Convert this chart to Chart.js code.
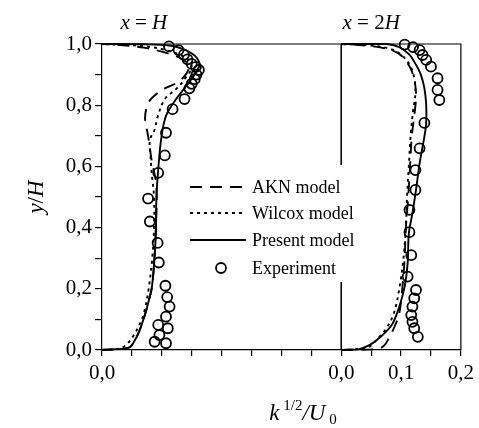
<!DOCTYPE html>
<html>
<head>
<meta charset="utf-8">
<script src="https://cdn.jsdelivr.net/npm/chart.js@4.4.1/dist/chart.umd.min.js"></script>
<style>
  html, body { margin: 0; padding: 0; background: #fff; }
  #wrap { width: 479px; height: 428px; }
</style>
</head>
<body>
<div id="wrap"><canvas id="c"></canvas></div>
<script>
// ---- Turbulence profiles k^(1/2)/U0 versus y/H at two stations ----

// Station x = H
const hPresentK = [0, 0.045, 0.053, 0.062, 0.071, 0.078, 0.083, 0.087, 0.090, 0.091, 0.094, 0.099, 0.107, 0.124, 0.141, 0.157, 0.163, 0.155, 0.135, 0.113, 0.070, 0];
const hPresentY = [0, 0.008, 0.025, 0.060, 0.110, 0.160, 0.200, 0.280, 0.380, 0.500, 0.590, 0.690, 0.765, 0.820, 0.863, 0.907, 0.934, 0.962, 0.984, 0.995, 0.999, 1];
const hAknK = [0, 0.045, 0.053, 0.062, 0.071, 0.078, 0.083, 0.087, 0.090, 0.091, 0.083, 0.077, 0.072, 0.078, 0.090, 0.105, 0.124, 0.140, 0.145, 0.130, 0.100, 0.070, 0.035, 0];
const hAknY = [0, 0.008, 0.025, 0.060, 0.110, 0.160, 0.200, 0.280, 0.400, 0.534, 0.620, 0.700, 0.760, 0.810, 0.835, 0.855, 0.872, 0.900, 0.930, 0.955, 0.975, 0.988, 0.996, 1];
const hWilcoxK = [0, 0.030, 0.042, 0.052, 0.062, 0.070, 0.078, 0.084, 0.087, 0.087, 0.083, 0.081, 0.080, 0.088, 0.093, 0.105, 0.125, 0.140, 0.150, 0.140, 0.110, 0.075, 0];
const hWilcoxY = [0, 0.005, 0.020, 0.045, 0.080, 0.120, 0.200, 0.300, 0.400, 0.500, 0.580, 0.640, 0.686, 0.720, 0.762, 0.820, 0.855, 0.890, 0.925, 0.955, 0.978, 0.992, 1];
const hExpK = [0.112, 0.128, 0.137, 0.143, 0.150, 0.157, 0.162, 0.158, 0.155, 0.150, 0.146, 0.138, 0.118, 0.107, 0.105, 0.094, 0.077, 0.080, 0.093, 0.095, 0.106, 0.109, 0.113, 0.107, 0.094, 0.110, 0.096, 0.088, 0.107];
const hExpY = [0.992, 0.980, 0.965, 0.950, 0.935, 0.925, 0.915, 0.900, 0.885, 0.870, 0.855, 0.820, 0.787, 0.710, 0.636, 0.579, 0.495, 0.420, 0.350, 0.286, 0.210, 0.173, 0.142, 0.109, 0.082, 0.071, 0.049, 0.027, 0.022];

// Station x = 2H
const h2PresentK = [0, 0.030, 0.047, 0.058, 0.075, 0.086, 0.097, 0.106, 0.111, 0.113, 0.119, 0.125, 0.131, 0.139, 0.142, 0.142, 0.139, 0.133, 0.125, 0.114, 0.097, 0.075, 0];
const h2PresentY = [0, 0.003, 0.016, 0.030, 0.060, 0.087, 0.141, 0.207, 0.283, 0.380, 0.447, 0.523, 0.610, 0.697, 0.740, 0.802, 0.856, 0.900, 0.932, 0.965, 0.990, 1.000, 1];
const h2AknK = [0, 0.060, 0.072, 0.080, 0.089, 0.097, 0.102, 0.106, 0.108, 0.112, 0.115, 0.118, 0.123, 0.125, 0.120, 0.110, 0.095, 0.072, 0.040, 0];
const h2AknY = [0, 0.003, 0.015, 0.040, 0.076, 0.120, 0.200, 0.300, 0.400, 0.500, 0.600, 0.700, 0.780, 0.840, 0.900, 0.940, 0.970, 0.986, 0.995, 1];
const h2WilcoxK = [0, 0.040, 0.050, 0.060, 0.075, 0.088, 0.097, 0.104, 0.108, 0.110, 0.113, 0.116, 0.120, 0.124, 0.122, 0.115, 0.100, 0.080, 0.050, 0];
const h2WilcoxY = [0, 0.005, 0.015, 0.035, 0.070, 0.120, 0.200, 0.300, 0.400, 0.500, 0.600, 0.700, 0.780, 0.840, 0.890, 0.930, 0.965, 0.985, 0.995, 1];
const h2ExpK = [0.106, 0.120, 0.131, 0.136, 0.142, 0.150, 0.161, 0.161, 0.164, 0.139, 0.131, 0.124, 0.124, 0.114, 0.114, 0.117, 0.111, 0.125, 0.122, 0.119, 0.117, 0.119, 0.122, 0.128];
const h2ExpY = [0.998, 0.990, 0.980, 0.964, 0.948, 0.926, 0.888, 0.850, 0.817, 0.742, 0.659, 0.588, 0.523, 0.458, 0.385, 0.310, 0.240, 0.196, 0.169, 0.142, 0.114, 0.092, 0.071, 0.043];

// Panel separator at the origin of the second station (broken around the key)
const sepY = [1, 0.605, null, 0.222, 0];

// Axis ticks
const xTickValues = [-0.4, 0, 0.1, 0.2];
const xTickText = ['0,0', '0,0', '0,1', '0,2'];
const yTickValues = [0, 0.2, 0.4, 0.6, 0.8, 1.0];
const yTickText = ['0,0', '0,2', '0,4', '0,6', '0,8', '1,0'];

// The first station shares the axis, shifted left by this amount
const H_SHIFT = -0.4;

const SERIF = "'Liberation Serif', 'Times New Roman', serif";

function pts(k, y, shift) {
  return k.map((v, i) => ({ x: v + shift, y: y[i] }));
}

const curve = (label, data, dash) => ({
  label, data, showLine: true, borderColor: '#000', borderWidth: 1.9,
  borderDash: dash, pointRadius: 0, tension: 0.35, fill: false, clip: false
});
const marks = (label, data) => ({
  label, data, showLine: false, pointRadius: 5, pointBorderWidth: 1.8,
  pointBorderColor: '#000', pointBackgroundColor: 'rgba(0,0,0,0)', clip: false
});

const DASH_AKN = [12, 8];
const DASH_WILCOX = [3, 4];

const datasets = [
  curve('AKN model', pts(hAknK, hAknY, H_SHIFT), DASH_AKN),
  curve('AKN model', pts(h2AknK, h2AknY, 0), DASH_AKN),
  curve('Wilcox model', pts(hWilcoxK, hWilcoxY, H_SHIFT), DASH_WILCOX),
  curve('Wilcox model', pts(h2WilcoxK, h2WilcoxY, 0), DASH_WILCOX),
  curve('Present model', pts(hPresentK, hPresentY, H_SHIFT), []),
  curve('Present model', pts(h2PresentK, h2PresentY, 0), []),
  marks('Experiment', pts(hExpK, hExpY, H_SHIFT)),
  marks('Experiment', pts(h2ExpK, h2ExpY, 0)),
  { label: '', data: sepY.map(y => ({ x: 0, y })), showLine: true, borderColor: '#000',
    borderWidth: 1, pointRadius: 0, tension: 0, spanGaps: false }
];

// Draw a run of text pieces with individual styles
function drawRuns(ctx, runs, x, baseline, align) {
  let total = 0;
  runs.forEach(r => { ctx.font = r.font; total += ctx.measureText(r.t).width; });
  let cx = align === 'center' ? x - total / 2 : x;
  ctx.textBaseline = 'alphabetic';
  ctx.textAlign = 'left';
  runs.forEach(r => {
    ctx.font = r.font;
    ctx.fillText(r.t, cx, baseline + (r.dy || 0));
    cx += ctx.measureText(r.t).width;
  });
}

const decorations = {
  id: 'decorations',
  afterDraw(chart) {
    const { ctx, chartArea: a, scales } = chart;
    ctx.save();
    ctx.fillStyle = '#000';
    ctx.strokeStyle = '#000';

    // top and right frame lines
    ctx.lineWidth = 1.2;
    ctx.beginPath();
    ctx.moveTo(a.left, a.top);
    ctx.lineTo(a.right, a.top);
    ctx.lineTo(a.right, a.bottom);
    ctx.stroke();

    const it = `italic 21px ${SERIF}`;
    const up = `21px ${SERIF}`;
    // station headings
    drawRuns(ctx, [{ t: 'x', font: it }, { t: ' = ', font: up }, { t: 'H', font: it }],
      scales.x.getPixelForValue(H_SHIFT + 0.07), a.top - 15, 'center');
    drawRuns(ctx, [{ t: 'x', font: it }, { t: ' = ', font: up }, { t: '2', font: up }, { t: 'H', font: it }],
      scales.x.getPixelForValue(0.05), a.top - 15, 'center');

    // x-axis title k^{1/2}/U_0
    const big = `italic 23px ${SERIF}`;
    const sm = `15px ${SERIF}`;
    drawRuns(ctx, [
      { t: 'k', font: big },
      { t: ' 1/2', font: sm, dy: -10 },
      { t: '/', font: big },
      { t: 'U', font: big },
      { t: ' 0', font: sm, dy: 4 }
    ], 303, 420, 'center');

    // y-axis title
    ctx.save();
    ctx.translate(43, (a.top + a.bottom) / 2);
    ctx.rotate(-Math.PI / 2);
    drawRuns(ctx, [{ t: 'y', font: big }, { t: '/', font: `23px ${SERIF}` }, { t: 'H', font: big }], 0, 0, 'center');
    ctx.restore();

    // key inside the plot
    const seen = new Set();
    const entries = [];
    chart.data.datasets.forEach(d => {
      if (d.label && !seen.has(d.label)) { seen.add(d.label); entries.push(d); }
    });
    const x0 = a.left + 88, x1 = a.left + 144, tx = a.left + 150;
    const rowY = [187, 213, 240, 268];
    ctx.font = `18px ${SERIF}`;
    ctx.textBaseline = 'middle';
    ctx.textAlign = 'left';
    entries.forEach((d, i) => {
      const y = rowY[i];
      if (d.showLine) {
        ctx.lineWidth = d.borderWidth;
        ctx.setLineDash(d.borderDash || []);
        ctx.beginPath();
        ctx.moveTo(x0, y);
        ctx.lineTo(x1, y);
        ctx.stroke();
        ctx.setLineDash([]);
      } else {
        ctx.lineWidth = d.pointBorderWidth;
        ctx.beginPath();
        ctx.arc((x0 + x1) / 2 + 3, y, d.pointRadius, 0, Math.PI * 2);
        ctx.stroke();
      }
      ctx.fillText(d.label, tx, y + 1);
    });
    ctx.restore();
  }
};

function labelFor(values, texts, v) {
  const i = values.findIndex(t => Math.abs(t - v) < 1e-6);
  return i >= 0 ? texts[i] : '';
}

new Chart(document.getElementById('c'), {
  type: 'scatter',
  data: { datasets },
  options: {
    responsive: true,
    maintainAspectRatio: false,
    animation: false,
    devicePixelRatio: 1,
    events: [],
    layout: { padding: { top: 44, right: 17, left: 0, bottom: 0 } },
    plugins: { legend: { display: false }, tooltip: { enabled: false } },
    scales: {
      x: {
        type: 'linear', min: -0.4, max: 0.2,
        afterFit: s => { s.height = 78; },
        border: { display: true, color: '#000', width: 1.2 },
        grid: { drawOnChartArea: false, drawTicks: true, tickLength: 6, color: '#000', lineWidth: 1.2 },
        ticks: {
          stepSize: 0.05, autoSkip: false, maxRotation: 0, padding: 5,
          color: '#000', font: { family: SERIF, size: 21 },
          callback: v => labelFor(xTickValues, xTickText, v)
        }
      },
      y: {
        type: 'linear', min: 0, max: 1,
        afterFit: s => { s.width = 102; },
        border: { display: true, color: '#000', width: 1.2 },
        grid: { drawOnChartArea: false, drawTicks: true, tickLength: 7, color: '#000', lineWidth: 1.2 },
        ticks: {
          stepSize: 0.1, autoSkip: false, padding: 3,
          color: '#000', font: { family: SERIF, size: 21 },
          callback: v => labelFor(yTickValues, yTickText, v)
        }
      }
    }
  },
  plugins: [decorations]
});
</script>
</body>
</html>
